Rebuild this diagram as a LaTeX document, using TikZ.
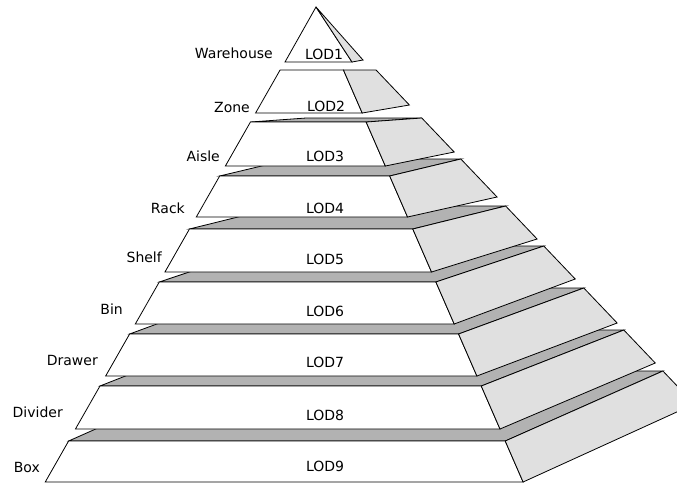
\documentclass[tikz,border=0pt]{standalone}
\usepackage{fontspec}
\newfontfamily\lblfont{DejaVu Sans}
\definecolor{sidegray}{RGB}{224,224,224}
\definecolor{topgray}{RGB}{178,178,178}
\tikzset{
  face/.style={draw=black, line width=0.8pt, line join=miter},
  frontface/.style={face, fill=white},
  sideface/.style={face, fill=sidegray},
  topface/.style={face, fill=topgray},
  lodtext/.style={font=\lblfont\fontsize{14}{16}\selectfont, inner sep=0pt, anchor=center},
  lvltext/.style={font=\lblfont\fontsize{14}{16}\selectfont, inner sep=0pt, anchor=east}
}
\begin{document}
\begin{tikzpicture}[x=1pt,y=-1pt]
\useasboundingbox (0,0) rectangle (677,483);
\fill[white] (0,0) rectangle (677,483);
\begin{scope}
\clip (0,0) rectangle (677,483);
% slices from bottom to top: front top y / front bottom y / back top y / back bottom y
\foreach \yt/\yb/\bt/\bb in {441/482/371/404, 386/429/330/363, 334/376/288/323, 282/324/246/279, 229/272/206/239, 176/217/159/197, 122/166/118/152, 70/113/70/105}{
  \pgfmathsetmacro\xlt{316-0.57*(\yt-7)}
  \pgfmathsetmacro\xrt{316+0.436*(\yt-7)}
  \pgfmathsetmacro\xbt{316+0.953*(\bt-7)}
  \pgfmathsetmacro\xlb{316-0.57*(\yb-7)}
  \pgfmathsetmacro\xrb{316+0.436*(\yb-7)}
  \pgfmathsetmacro\xbb{316+0.953*(\bb-7)}
  \pgfmathsetmacro\xblt{\xlt+\xbt-\xrt}
  \path[topface] (\xlt,\yt) -- (\xrt,\yt) -- (\xbt,\bt) -- (\xblt,\bt) -- cycle;
  \path[frontface] (\xlt,\yt) -- (\xrt,\yt) -- (\xrb,\yb) -- (\xlb,\yb) -- cycle;
  \path[sideface] (\xrt,\yt) -- (\xbt,\bt) -- (\xbb,\bb) -- (\xrb,\yb) -- cycle;
}
% top slice (triangle)
\path[frontface] (316,7) -- (285,62) -- (352,62) -- cycle;
\path[sideface] (316,7) -- (352,62) -- (363,60) -- cycle;
\end{scope}
% LOD texts
\node[lodtext] (lod1) at (324,54) {LOD1};
\node[lodtext] (lod2) at (326,106) {LOD2};
\node[lodtext] (lod3) at (325,156) {LOD3};
\node[lodtext] (lod4) at (325,208) {LOD4};
\node[lodtext] (lod5) at (325,259) {LOD5};
\node[lodtext] (lod6) at (325,311) {LOD6};
\node[lodtext] (lod7) at (325,362) {LOD7};
\node[lodtext] (lod8) at (325,415) {LOD8};
\node[lodtext] (lod9) at (325,466) {LOD9};
% level names
\node[lvltext] (lv1) at (273,53) {Warehouse};
\node[lvltext] (lv2) at (250,107) {Zone};
\node[lvltext] (lv3) at (220,156) {Aisle};
\node[lvltext] (lv4) at (185,208) {Rack};
\node[lvltext] (lv5) at (162,257) {Shelf};
\node[lvltext] (lv6) at (123,309) {Bin};
\node[lvltext] (lv7) at (98,360) {Drawer};
\node[lvltext] (lv8) at (63,412) {Divider};
\node[lvltext] (lv9) at (40,467) {Box};
\end{tikzpicture}
\end{document}
